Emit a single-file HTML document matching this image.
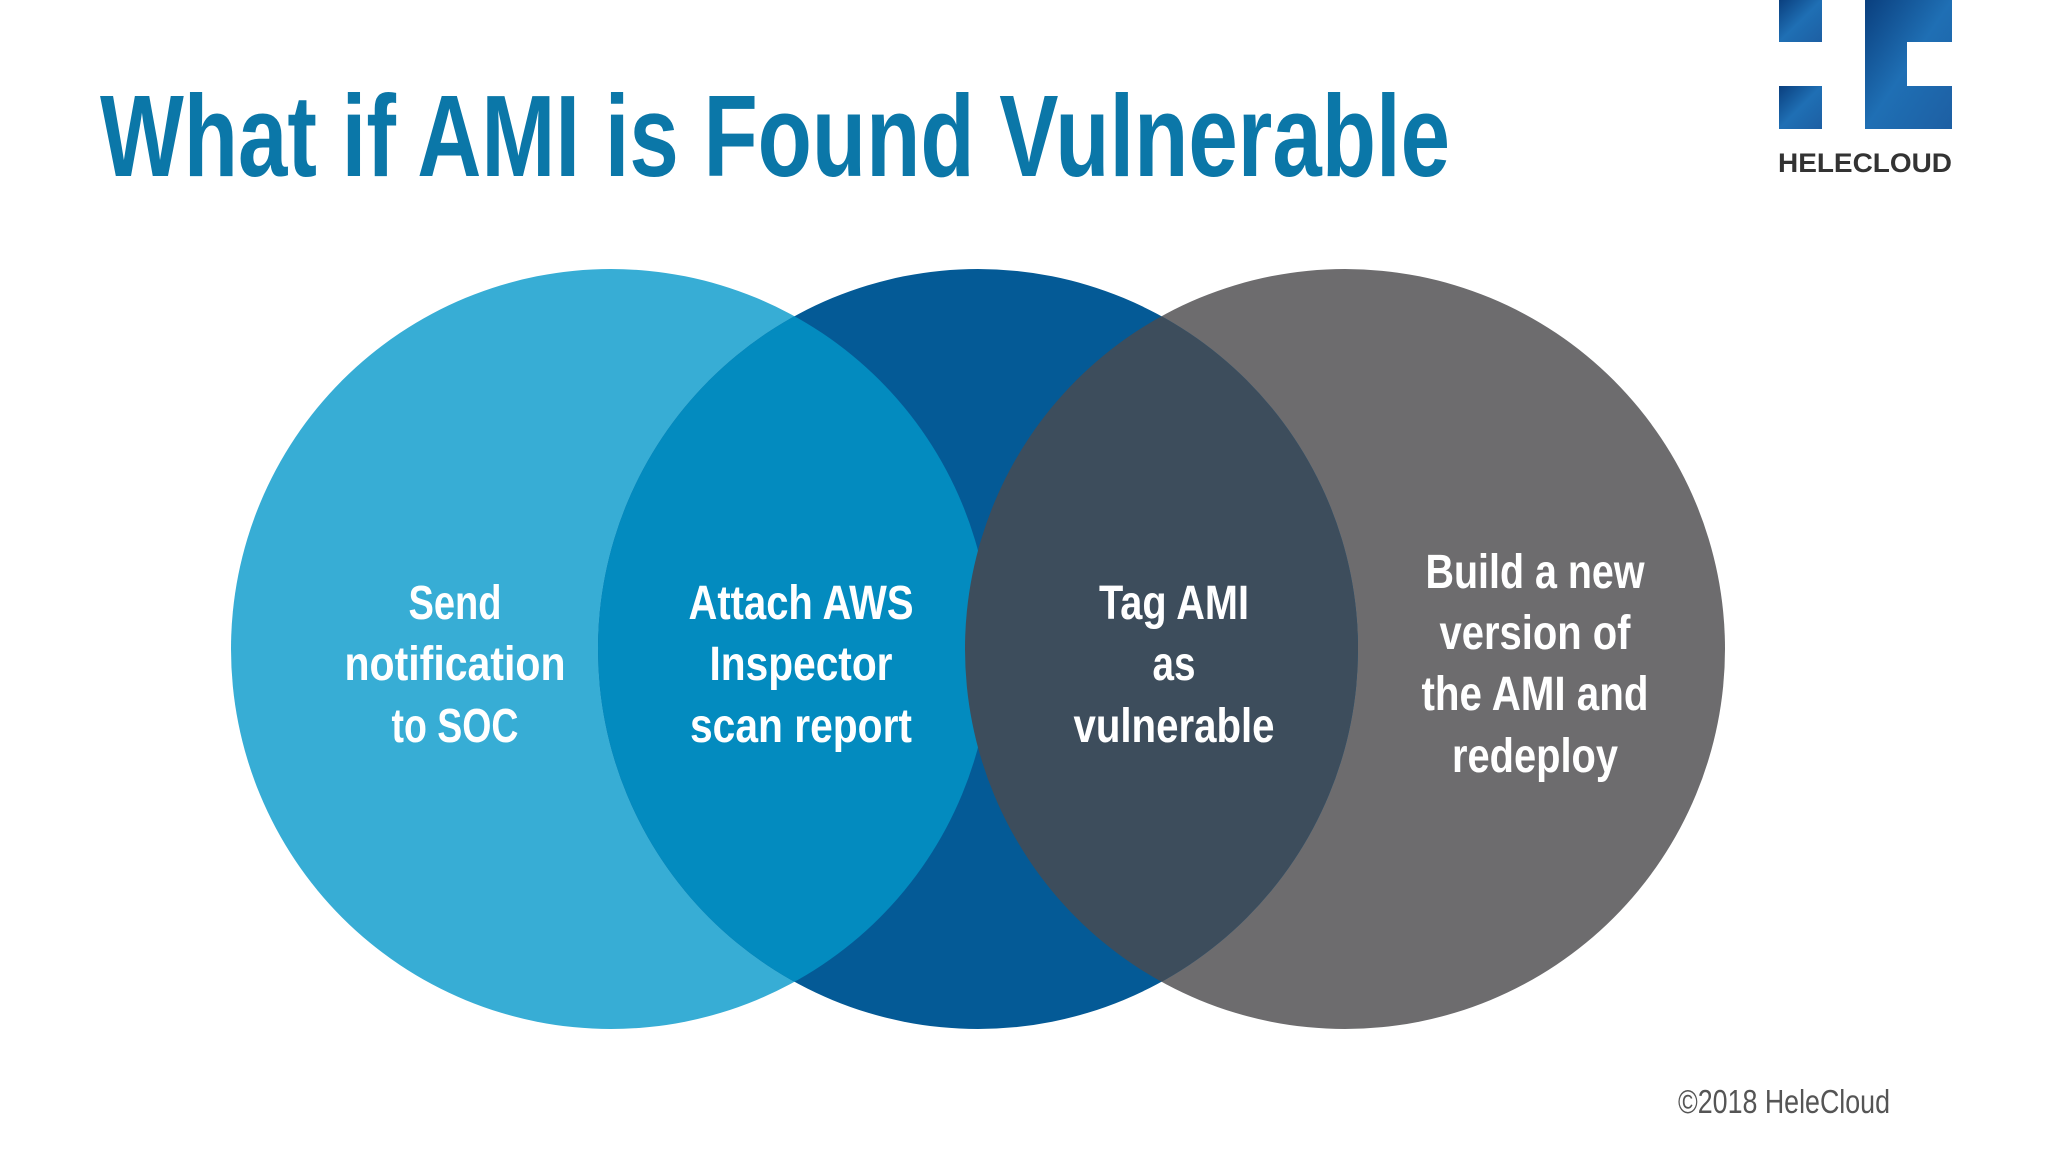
<!DOCTYPE html>
<html><head><meta charset="utf-8"><style>
html,body{margin:0;padding:0;background:#fff;}
svg{display:block;}
text{font-family:"Liberation Sans",sans-serif;}
</style></head><body>
<svg width="2048" height="1152" viewBox="0 0 2048 1152" xmlns="http://www.w3.org/2000/svg">
<defs>
<clipPath id="cL"><circle cx="611" cy="649" r="380"/></clipPath>
<clipPath id="cR"><circle cx="1345" cy="649" r="380"/></clipPath>
<linearGradient id="lg" x1="0" y1="0" x2="1" y2="1">
<stop offset="0" stop-color="#0a3f7e"/><stop offset="0.5" stop-color="#1f6fb4"/><stop offset="1" stop-color="#1d5fa3"/>
</linearGradient>
</defs>
<rect width="2048" height="1152" fill="#fff"/>
<text x="100" y="176" font-size="116" font-weight="bold" fill="#0b77a8" textLength="1350" lengthAdjust="spacingAndGlyphs">What if AMI is Found Vulnerable</text>
<rect x="1779" y="0" width="43" height="42" fill="url(#lg)"/>
<rect x="1779" y="86" width="43" height="43" fill="url(#lg)"/>
<path d="M1865 0H1952V42H1907V86H1952V129H1865Z" fill="url(#lg)"/>
<text x="1778" y="172" font-size="27" font-weight="bold" fill="#333" textLength="174" lengthAdjust="spacingAndGlyphs">HELECLOUD</text>
<circle cx="611" cy="649" r="380" fill="#37add5"/>
<circle cx="1345" cy="649" r="380" fill="#6d6c6e"/>
<circle cx="978" cy="649" r="380" fill="#045a96"/>
<circle cx="978" cy="649" r="380" fill="#038bbf" clip-path="url(#cL)"/>
<circle cx="978" cy="649" r="380" fill="#3d4d5c" clip-path="url(#cR)"/>
<g fill="#fff" font-size="48" font-weight="bold" text-anchor="middle" lengthAdjust="spacingAndGlyphs">
<text x="455" y="619" textLength="93" lengthAdjust="spacingAndGlyphs">Send</text>
<text x="455" y="680" textLength="221" lengthAdjust="spacingAndGlyphs">notification</text>
<text x="455" y="742" textLength="127" lengthAdjust="spacingAndGlyphs">to SOC</text>
<text x="801" y="619" textLength="225" lengthAdjust="spacingAndGlyphs">Attach AWS</text>
<text x="801" y="680" textLength="183" lengthAdjust="spacingAndGlyphs">Inspector</text>
<text x="801" y="742" textLength="222" lengthAdjust="spacingAndGlyphs">scan report</text>
<text x="1174" y="619" textLength="150" lengthAdjust="spacingAndGlyphs">Tag AMI</text>
<text x="1174" y="680" textLength="43" lengthAdjust="spacingAndGlyphs">as</text>
<text x="1174" y="742" textLength="201" lengthAdjust="spacingAndGlyphs">vulnerable</text>
<text x="1535" y="588" textLength="219" lengthAdjust="spacingAndGlyphs">Build a new</text>
<text x="1535" y="649" textLength="191" lengthAdjust="spacingAndGlyphs">version of</text>
<text x="1535" y="710" textLength="227" lengthAdjust="spacingAndGlyphs">the AMI and</text>
<text x="1535" y="772" textLength="166" lengthAdjust="spacingAndGlyphs">redeploy</text>
</g>
<text x="1678" y="1113" font-size="33" fill="#555" textLength="212" lengthAdjust="spacingAndGlyphs">©2018 HeleCloud</text>
</svg>
</body></html>
